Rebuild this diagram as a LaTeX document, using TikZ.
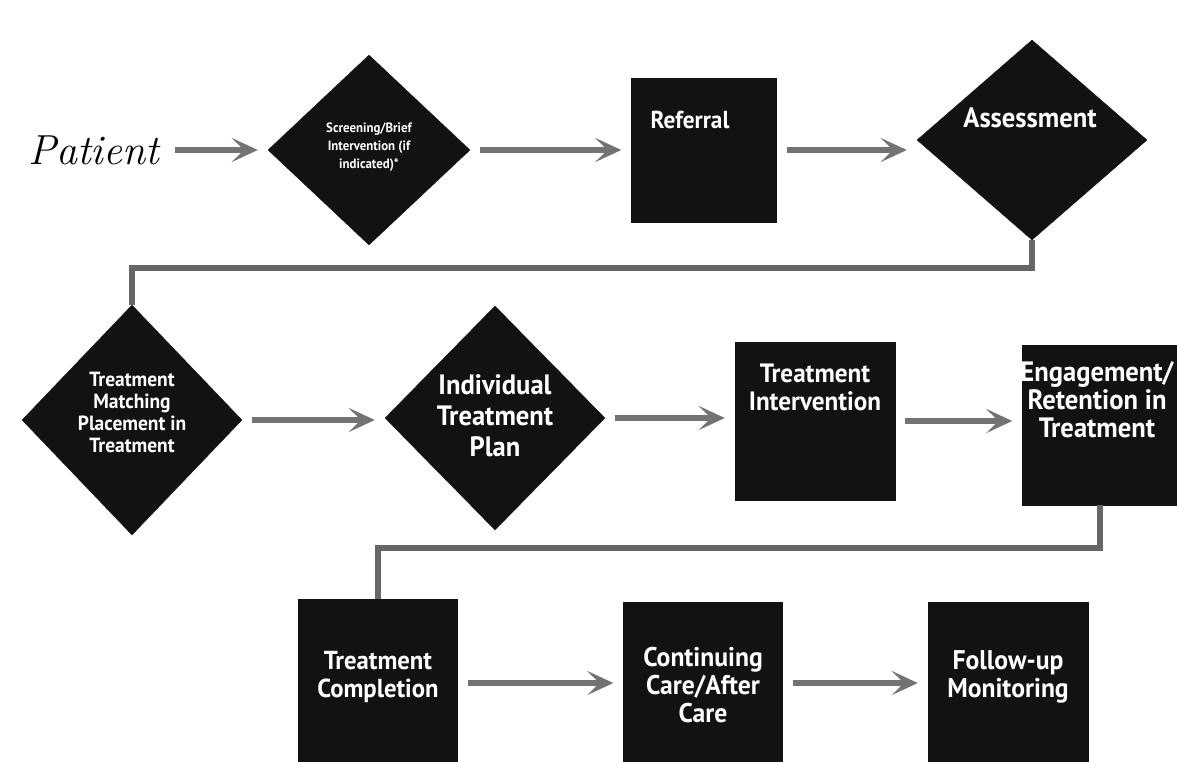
\documentclass[tikz,border=0pt]{standalone}
\usepackage{fontspec}
\newfontfamily\cond[FakeStretch=0.95]{PT Sans}
\usetikzlibrary{shapes.geometric,arrows.meta}
\begin{document}
\begin{tikzpicture}[x=1pt,y=-1pt,
  dia/.style={diamond,fill=black!93,draw=black!93,inner sep=0pt},
  box/.style={rectangle,fill=black!93,draw=black!93,inner sep=0pt},
  txt/.style={text=white,align=center,inner sep=0pt},
  arr/.style={line width=6pt,draw=black!55,shorten <=10pt,shorten >=10pt,
    -{Stealth[length=26pt,width=24pt,inset=12pt,fill=black!55]}},
  conn/.style={line width=5.5pt,draw=black!60}
]
\useasboundingbox[fill=white] (0,0) rectangle (1177,761);

% Row 1
\node[anchor=west,inner sep=0pt,font=\itshape\fontsize{42}{46}\selectfont] (patient) at (28,150) {Patient};
\node[dia,minimum width=202pt,minimum height=190pt] (screen) at (369,150) {};
\node[txt,font=\cond\bfseries\fontsize{13.5}{18}\selectfont] (screentxt) at (369,147) {Screening/Brief\\Intervention (if\\indicated)*};
\node[box,minimum width=145pt,minimum height=144pt] (referral) at (704,150) {};
\node[txt,font=\cond\bfseries\fontsize{24.5}{28}\selectfont] (referraltxt) at (690,120) {Referral};
\node[dia,minimum width=230pt,minimum height=200pt] (assess) at (1032,140) {};
\node[txt,font=\cond\bfseries\fontsize{28}{30}\selectfont] (assesstxt) at (1030,118) {Assessment};

% Row 2
\node[dia,minimum width=220pt,minimum height=230pt] (match) at (132,420) {};
\node[txt,font=\cond\bfseries\fontsize{20.5}{22}\selectfont] (matchtxt) at (132,412) {Treatment\\Matching\\Placement in\\Treatment};
\node[dia,minimum width=220pt,minimum height=224pt] (plan) at (495,418) {};
\node[txt,font=\cond\bfseries\fontsize{28}{31}\selectfont] (plantxt) at (495,416) {Individual\\Treatment\\Plan};
\node[box,minimum width=160pt,minimum height=158pt] (interv) at (815,421) {};
\node[txt,font=\cond\bfseries\fontsize{26.5}{28}\selectfont] (intervtxt) at (815,387) {Treatment\\Intervention};
\node[box,minimum width=155pt,minimum height=160pt] (engage) at (1100,425) {};
\node[txt,font=\cond\bfseries\fontsize{28}{28}\selectfont] (engagetxt) at (1097,400) {Engagement/\\Retention in\\Treatment};

% Row 3
\node[box,minimum width=159pt,minimum height=165pt] (complete) at (378,682) {};
\node[txt,font=\cond\bfseries\fontsize{26}{28}\selectfont] (completetxt) at (378,677) {Treatment\\Completion};
\node[box,minimum width=159pt,minimum height=162pt] (contin) at (703,683) {};
\node[txt,font=\cond\bfseries\fontsize{27}{28}\selectfont] (contintxt) at (703,685) {Continuing\\Care/After\\Care};
\node[box,minimum width=160pt,minimum height=162pt] (follow) at (1008,683) {};
\node[txt,font=\cond\bfseries\fontsize{27}{28}\selectfont] (followtxt) at (1008,677) {Follow-up\\Monitoring};

% arrows
\draw[arr,shorten <=16pt] (patient.east) -- (screen.west);
\draw[arr] (screen.east) -- (referral.west);
\draw[arr] (referral.east) -- (assess.west |- referral.east);
\draw[arr] (match.east) -- (plan.west |- match.east);
\draw[arr] (plan.east) -- (interv.west |- plan.east);
\draw[arr] (interv.east) -- (engage.west |- interv.east);
\draw[arr] (complete.east |- contin.center) -- (contin.west);
\draw[arr] (contin.east) -- (follow.west);

% connectors
\coordinate (elbowA) at (1032,268);
\coordinate (elbowB) at (1100,548);
\draw[conn] (assess.south) -- (elbowA) -| (match.north);
\draw[conn] (engage.south) -- (elbowB) -| (complete.north);
\end{tikzpicture}
\end{document}
